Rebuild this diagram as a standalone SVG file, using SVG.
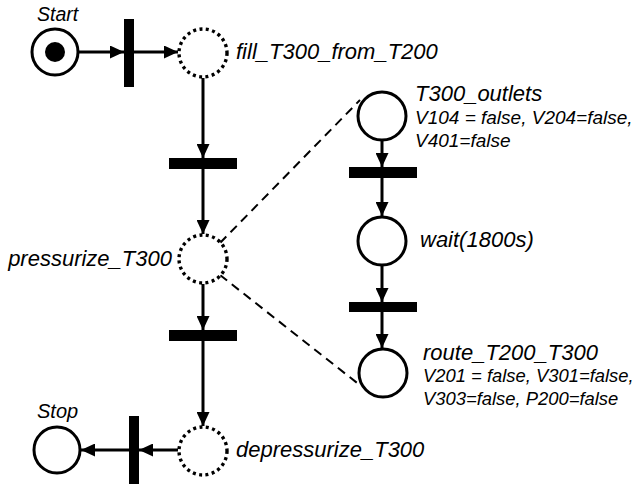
<svg xmlns="http://www.w3.org/2000/svg" width="638" height="486" viewBox="0 0 638 486">
<style>
text{font-family:"Liberation Sans",Arial,sans-serif;font-style:italic;fill:#000}
.lbl{font-size:22px}
.sub{font-size:19px}
.sub2{font-size:18.4px}
.place{fill:#fff;stroke:#000;stroke-width:3}
.dot{fill:#fff;stroke:#000;stroke-width:3.4;stroke-dasharray:3 3.4}
.bar{fill:#000}
.arc{stroke:#000;stroke-width:3;fill:none;marker-end:url(#ah)}
.dash{stroke:#000;stroke-width:2;fill:none;stroke-dasharray:9 6}
</style>
<defs>
<marker id="ah" markerWidth="14" markerHeight="13" refX="14" refY="6.5" orient="auto" markerUnits="userSpaceOnUse">
<path d="M0,0 L14,6.5 L0,13 Z" fill="#000"/>
</marker>
</defs>
<rect width="638" height="486" fill="#fff"/>
<g id="connectors">
<line class="arc" x1="79" y1="52" x2="124" y2="52"/>
<line class="arc" x1="134" y1="52" x2="178" y2="52"/>
<line class="arc" x1="203" y1="78" x2="203" y2="158"/>
<line class="arc" x1="203" y1="169" x2="203" y2="234"/>
<line class="arc" x1="203" y1="284" x2="203" y2="330"/>
<line class="arc" x1="203" y1="341" x2="203" y2="426"/>
<line class="arc" x1="178" y1="450" x2="139" y2="450"/>
<line class="arc" x1="129" y1="450" x2="81" y2="450"/>
<line class="arc" x1="382" y1="141" x2="382" y2="167"/>
<line class="arc" x1="382" y1="178" x2="382" y2="216"/>
<line class="arc" x1="382" y1="266" x2="382" y2="302"/>
<line class="arc" x1="382" y1="312" x2="382" y2="348"/>
<line class="dash" x1="220" y1="243" x2="360" y2="100"/>
<line class="dash" x1="220" y1="275" x2="361" y2="386"/>
</g>
<g id="start">
<circle class="place" cx="55" cy="52" r="23"/>
<circle cx="55" cy="52" r="10" fill="#000"/>
<text x="37" y="21" style="font-size:19.5px">Start</text>
</g>
<g id="t1"><rect class="bar" x="124" y="19" width="10" height="68"/></g>
<g id="fill_T300_from_T200">
<circle class="dot" cx="203" cy="53" r="24"/>
<text class="lbl" x="236" y="59">fill_T300_from_T200</text>
</g>
<g id="t2"><rect class="bar" x="169" y="158" width="68" height="11"/></g>
<g id="pressurize_T300">
<circle class="dot" cx="203" cy="259" r="24"/>
<text class="lbl" x="172" y="266" text-anchor="end">pressurize_T300</text>
</g>
<g id="t3"><rect class="bar" x="169" y="330" width="68" height="11"/></g>
<g id="depressurize_T300">
<circle class="dot" cx="203" cy="451" r="24"/>
<text class="lbl" x="236" y="457">depressurize_T300</text>
</g>
<g id="t4"><rect class="bar" x="129" y="416" width="10" height="68"/></g>
<g id="stop">
<circle class="place" cx="57" cy="450" r="23"/>
<text x="37" y="418" style="font-size:20px">Stop</text>
</g>
<g id="T300_outlets">
<circle class="place" cx="382" cy="116" r="24"/>
<text class="lbl" x="415" y="101">T300_outlets</text>
<text class="sub" x="415" y="124">V104 = false, V204=false,</text>
<text class="sub" x="415" y="147">V401=false</text>
</g>
<g id="t5"><rect class="bar" x="349" y="167" width="68" height="11"/></g>
<g id="wait">
<circle class="place" cx="382" cy="241" r="24"/>
<text class="lbl" x="420" y="247">wait(1800s)</text>
</g>
<g id="t6"><rect class="bar" x="349" y="302" width="68" height="10"/></g>
<g id="route_T200_T300">
<circle class="place" cx="383" cy="373" r="24"/>
<text class="lbl" x="423" y="360">route_T200_T300</text>
<text class="sub2" x="423" y="382">V201 = false, V301=false,</text>
<text class="sub2" x="423" y="405">V303=false, P200=false</text>
</g>
</svg>
